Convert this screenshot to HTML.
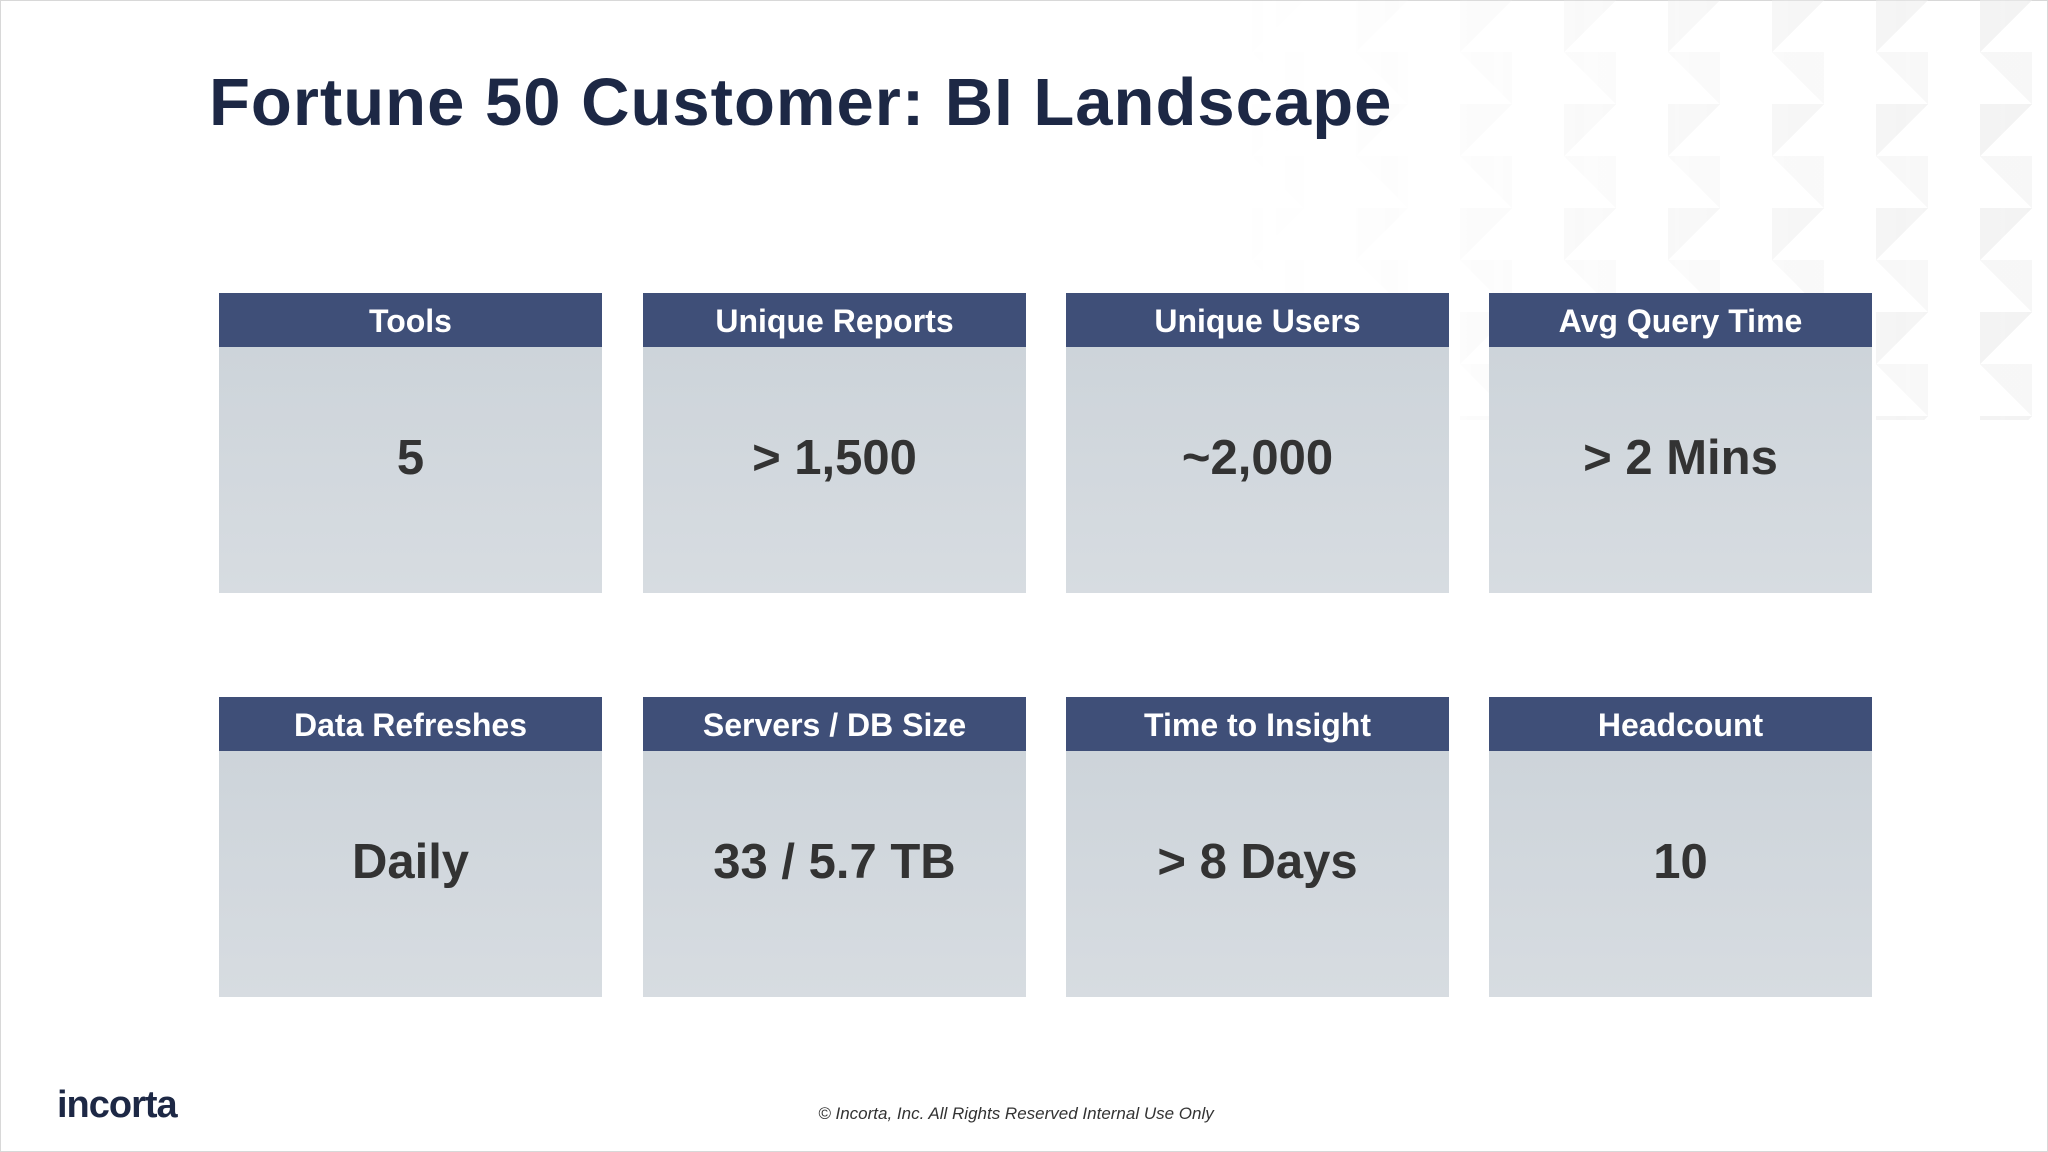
<!DOCTYPE html>
<html>
<head>
<meta charset="utf-8">
<style>
  html,body{margin:0;padding:0;}
  body{width:2048px;height:1152px;position:relative;overflow:hidden;background:#fff;font-family:"Liberation Sans","DejaVu Sans",sans-serif;}
  .frame{position:absolute;left:0;top:0;width:2046px;height:1150px;border:1px solid #d8d8d8;}
  .deco{position:absolute;right:0;top:0;width:900px;height:420px;
    background:
      linear-gradient(135deg, rgba(235,235,235,.9) 25%, transparent 25%) 0 0/104px 104px,
      linear-gradient(225deg, rgba(242,242,242,.9) 25%, transparent 25%) 52px 52px/104px 104px;
    -webkit-mask-image:linear-gradient(to left, rgba(0,0,0,.7), rgba(0,0,0,0) 90%);
    mask-image:linear-gradient(to left, rgba(0,0,0,.7), rgba(0,0,0,0) 90%);}
  h1{position:absolute;left:209px;top:64px;margin:0;font-size:67px;font-weight:bold;color:#1d2845;letter-spacing:1px;}
  .card{position:absolute;width:383px;height:300px;}
  .hdr{height:54px;background:#3f4f78;color:#fff;font-size:32px;font-weight:bold;text-align:center;line-height:56px;}
  .body{height:246px;background:linear-gradient(#cdd4da,#d7dce1);color:#333;font-size:49px;font-weight:bold;text-align:center;line-height:222px;}
  .logo{position:absolute;left:57px;top:1084px;font-size:38px;font-weight:bold;color:#1d2845;letter-spacing:-1px;}
  .foot{position:absolute;left:0;width:2032px;text-align:center;top:1104px;font-size:17px;font-style:italic;color:#333;}
</style>
</head>
<body>
<div class="frame"></div>
<div class="deco"></div>
<h1>Fortune 50 Customer: BI Landscape</h1>

<div class="card" style="left:219px;top:293px"><div class="hdr">Tools</div><div class="body">5</div></div>
<div class="card" style="left:643px;top:293px"><div class="hdr">Unique Reports</div><div class="body">&gt; 1,500</div></div>
<div class="card" style="left:1066px;top:293px"><div class="hdr">Unique Users</div><div class="body">~2,000</div></div>
<div class="card" style="left:1489px;top:293px"><div class="hdr">Avg Query Time</div><div class="body">&gt; 2 Mins</div></div>

<div class="card" style="left:219px;top:697px"><div class="hdr">Data Refreshes</div><div class="body">Daily</div></div>
<div class="card" style="left:643px;top:697px"><div class="hdr">Servers / DB Size</div><div class="body">33 / 5.7 TB</div></div>
<div class="card" style="left:1066px;top:697px"><div class="hdr">Time to Insight</div><div class="body">&gt; 8 Days</div></div>
<div class="card" style="left:1489px;top:697px"><div class="hdr">Headcount</div><div class="body">10</div></div>

<div class="logo">incorta</div>
<div class="foot">© Incorta, Inc. All Rights Reserved Internal Use Only</div>
</body>
</html>
